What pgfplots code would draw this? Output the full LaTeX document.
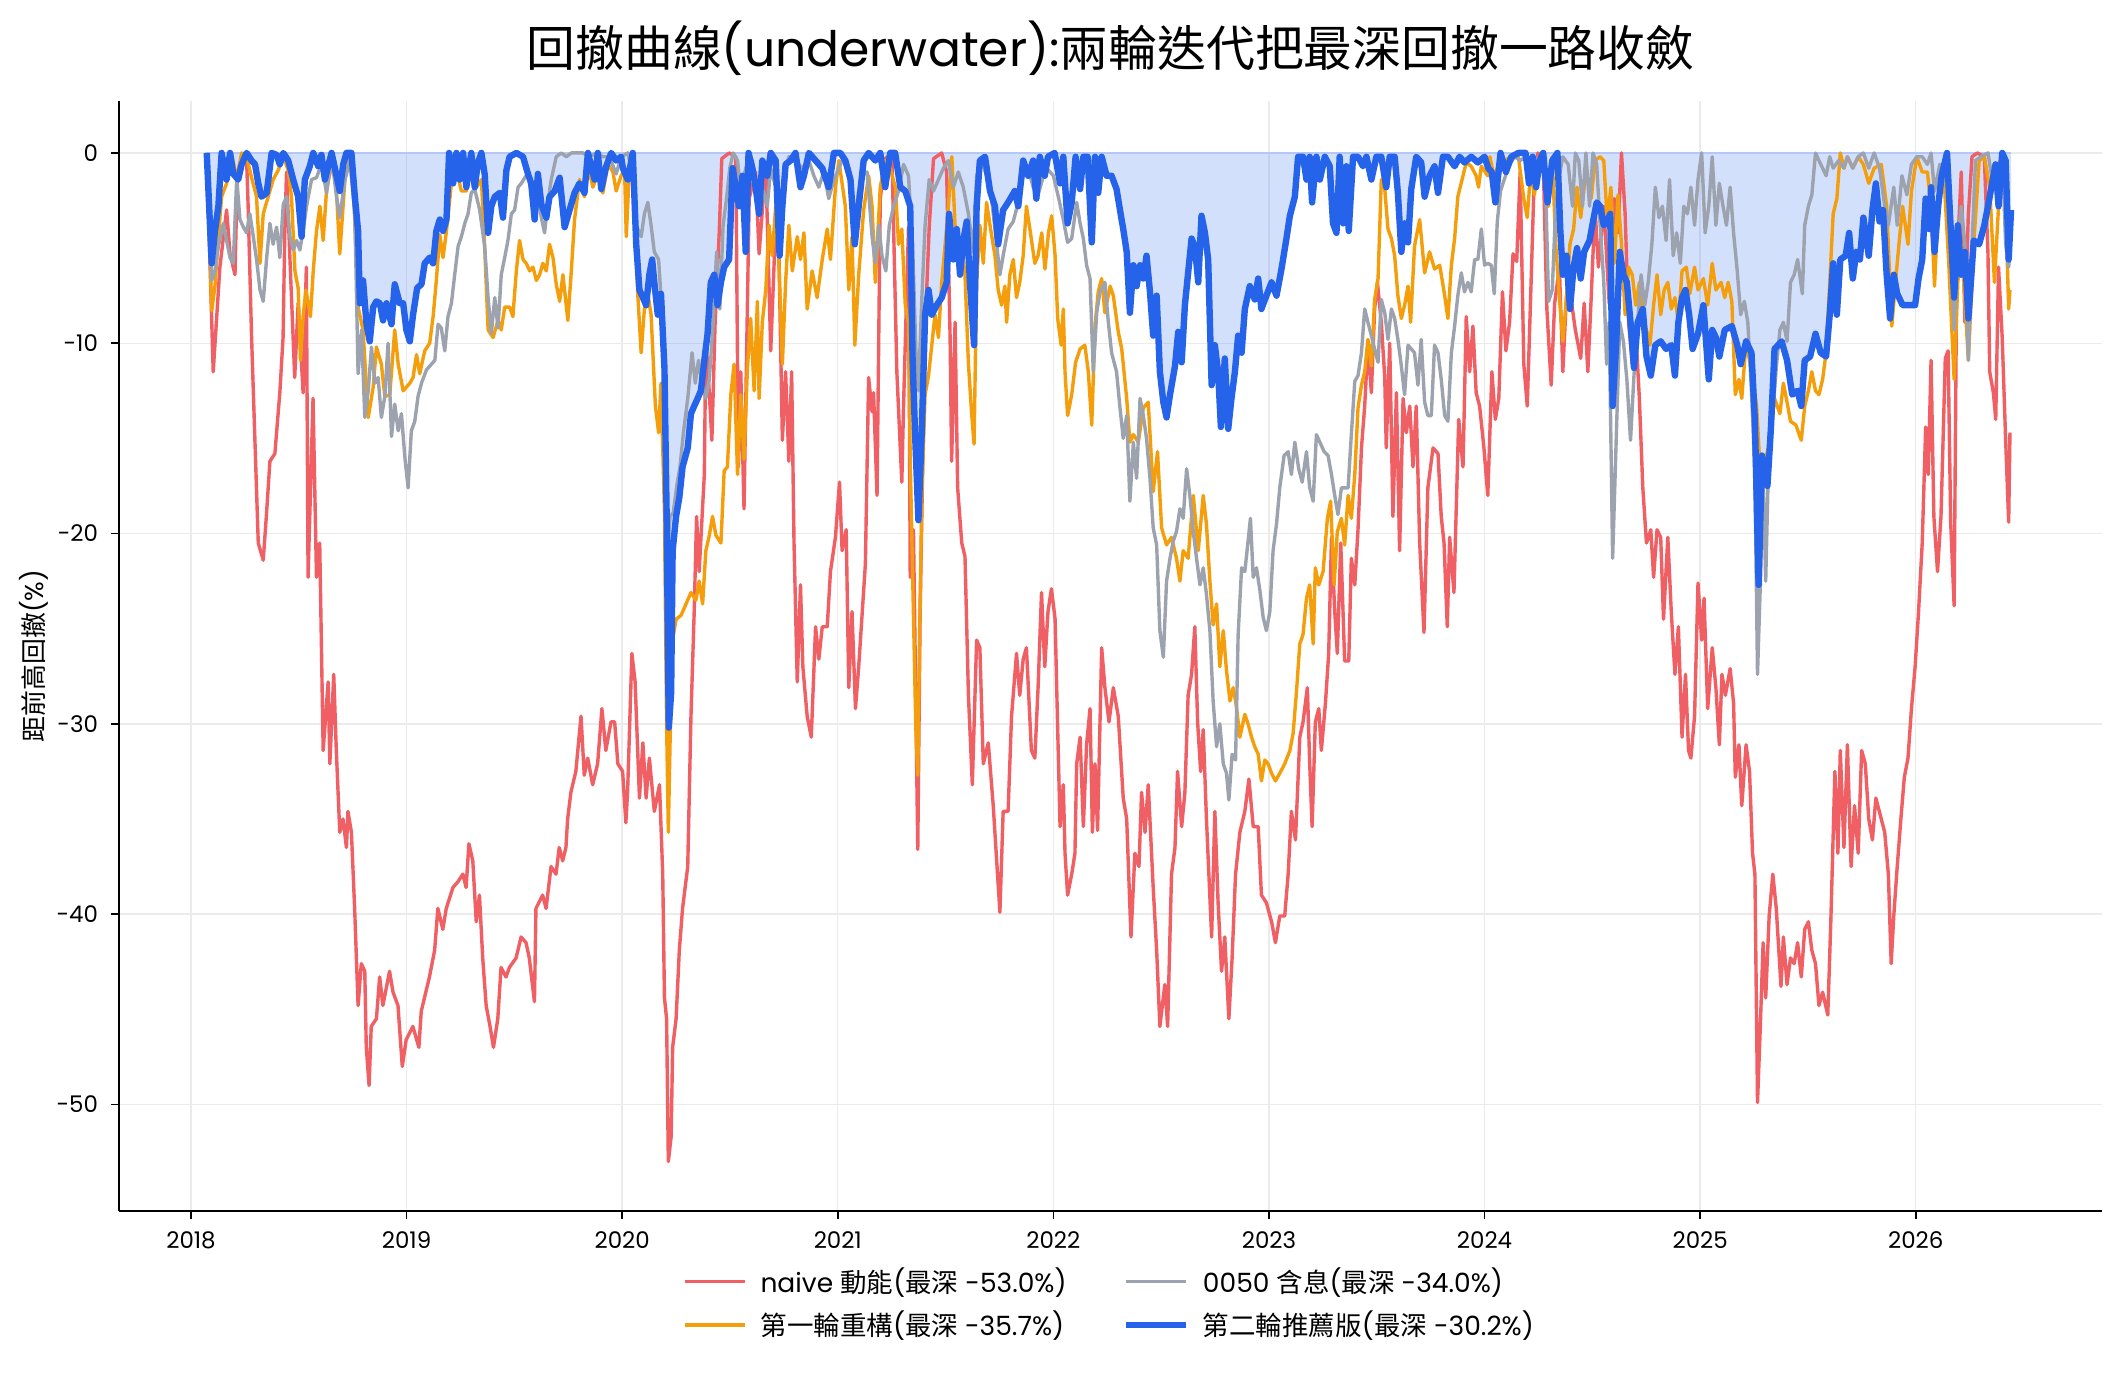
\documentclass[border=0pt]{standalone}
\usepackage{pgfplots}
\usepackage{pgfplotstable}
\pgfplotsset{compat=1.18}
\usepackage{fontspec}
\setmainfont{Poppins}
\newfontfamily\cjk{Noto Sans CJK TC}
\newcommand{\zh}[1]{{\cjk #1}}
\definecolor{cred}{RGB}{239,95,99}
\definecolor{corange}{RGB}{245,158,11}
\definecolor{cgray}{RGB}{156,163,175}
\definecolor{cblue}{RGB}{37,99,235}
\definecolor{cgrid}{RGB}{235,235,235}

\pgfplotstableread{
x y
2018.073 0
2018.103 -11.5
2018.134 -6.0
2018.165 -3.0
2018.181 -5.3
2018.204 -6.4
2018.215 -1.0
2018.235 -0.3
2018.258 -0.4
2018.265 -2.8
2018.281 -9.7
2018.289 -12.5
2018.312 -20.5
2018.335 -21.4
2018.350 -19.0
2018.366 -16.2
2018.389 -15.8
2018.412 -12.6
2018.427 -9.7
2018.435 -4.2
2018.443 -1.0
2018.458 -5.3
2018.481 -11.8
2018.497 -7.9
2018.520 -12.6
2018.535 -6.0
2018.543 -22.3
2018.566 -12.9
2018.582 -22.3
2018.597 -20.5
2018.613 -31.4
2018.636 -27.8
2018.644 -32.1
2018.662 -27.4
2018.674 -31.4
2018.690 -35.7
2018.705 -35.0
2018.721 -36.5
2018.728 -34.6
2018.744 -35.7
2018.759 -39.7
2018.775 -44.8
2018.790 -42.6
2018.806 -43.0
2018.813 -47.0
2018.826 -49.0
2018.836 -45.9
2018.860 -45.5
2018.875 -43.3
2018.890 -44.8
2018.921 -43.0
2018.937 -44.1
2018.960 -44.8
2018.980 -48.0
2018.998 -46.6
2019.029 -45.9
2019.057 -47.0
2019.068 -45.1
2019.106 -43.3
2019.130 -41.9
2019.145 -39.7
2019.168 -40.8
2019.184 -39.7
2019.215 -38.6
2019.238 -38.3
2019.261 -37.9
2019.276 -38.6
2019.289 -36.3
2019.307 -37.2
2019.323 -40.4
2019.338 -39.0
2019.353 -42.3
2019.369 -44.8
2019.387 -45.9
2019.403 -47.0
2019.423 -45.5
2019.438 -42.8
2019.461 -43.3
2019.477 -42.8
2019.508 -42.3
2019.531 -41.2
2019.554 -41.5
2019.569 -42.3
2019.593 -44.6
2019.600 -39.7
2019.631 -39.0
2019.647 -39.7
2019.670 -37.5
2019.693 -37.9
2019.708 -36.5
2019.724 -37.2
2019.739 -36.5
2019.747 -35.0
2019.762 -33.6
2019.785 -32.5
2019.809 -29.6
2019.824 -32.7
2019.840 -31.8
2019.863 -33.2
2019.886 -32.1
2019.906 -29.2
2019.924 -31.4
2019.948 -29.9
2019.965 -29.9
2019.980 -32.1
2020.002 -32.5
2020.017 -35.2
2020.025 -33.6
2020.045 -26.3
2020.060 -27.8
2020.080 -33.9
2020.096 -31.0
2020.111 -33.9
2020.126 -31.8
2020.149 -34.6
2020.173 -33.2
2020.188 -37.9
2020.196 -44.4
2020.206 -45.5
2020.214 -53.0
2020.227 -51.7
2020.234 -47.0
2020.250 -45.5
2020.265 -41.9
2020.280 -39.7
2020.304 -37.5
2020.319 -29.6
2020.334 -24.1
2020.345 -19.1
2020.357 -22.0
2020.381 -16.9
2020.388 -9.7
2020.404 -12.6
2020.416 -15.1
2020.431 -8.9
2020.450 -4.2
2020.462 -0.3
2020.496 0
2020.527 -0.2
2020.539 -16.5
2020.550 -11.5
2020.565 -18.7
2020.589 -2.4
2020.619 -1.0
2020.635 -5.3
2020.666 -0.6
2020.689 -10.4
2020.704 -6.0
2020.720 -1.0
2020.743 -15.1
2020.758 -11.5
2020.773 -16.2
2020.786 -11.5
2020.797 -20.5
2020.812 -27.8
2020.827 -22.7
2020.838 -27.0
2020.858 -29.6
2020.877 -30.7
2020.897 -24.9
2020.912 -26.6
2020.928 -24.9
2020.951 -24.9
2020.966 -22.0
2020.989 -20.2
2021.008 -17.3
2021.020 -20.9
2021.039 -19.8
2021.051 -28.1
2021.066 -24.1
2021.082 -29.2
2021.097 -27.0
2021.128 -21.6
2021.143 -11.8
2021.159 -13.6
2021.166 -12.6
2021.182 -18.0
2021.197 -2.4
2021.220 -0.3
2021.251 0
2021.274 -11.5
2021.297 -17.3
2021.305 -13.3
2021.328 -3.9
2021.336 -22.3
2021.351 -19.8
2021.362 -28.9
2021.371 -36.6
2021.382 -24.1
2021.405 -9.3
2021.424 -3.9
2021.444 -0.3
2021.482 0
2021.505 -1.0
2021.521 -9.7
2021.528 -16.2
2021.544 -8.9
2021.556 -17.6
2021.575 -20.5
2021.590 -21.2
2021.606 -28.5
2021.624 -33.2
2021.644 -25.6
2021.659 -26.0
2021.675 -32.1
2021.698 -31.0
2021.721 -34.3
2021.737 -37.2
2021.752 -39.9
2021.767 -34.6
2021.790 -34.6
2021.806 -29.6
2021.829 -26.3
2021.844 -28.5
2021.860 -26.6
2021.875 -26.0
2021.898 -31.4
2021.914 -31.8
2021.929 -28.1
2021.945 -23.1
2021.960 -27.0
2021.975 -24.1
2021.991 -22.9
2022.008 -24.5
2022.020 -30.3
2022.031 -35.4
2022.046 -33.2
2022.054 -36.8
2022.066 -39.0
2022.085 -37.9
2022.100 -36.8
2022.108 -32.1
2022.124 -30.7
2022.139 -35.4
2022.154 -31.1
2022.170 -29.2
2022.181 -35.7
2022.193 -32.1
2022.205 -35.6
2022.224 -26.0
2022.239 -28.1
2022.258 -29.9
2022.278 -28.1
2022.301 -29.6
2022.324 -33.9
2022.340 -35.0
2022.360 -41.2
2022.378 -36.8
2022.397 -37.5
2022.409 -33.6
2022.425 -35.7
2022.440 -33.2
2022.463 -38.6
2022.479 -41.9
2022.494 -45.9
2022.517 -43.7
2022.530 -45.9
2022.548 -37.9
2022.564 -36.5
2022.576 -32.5
2022.595 -35.4
2022.610 -33.6
2022.625 -28.5
2022.641 -27.4
2022.656 -24.9
2022.669 -29.9
2022.683 -32.5
2022.695 -30.3
2022.710 -35.0
2022.734 -41.2
2022.749 -34.6
2022.764 -39.4
2022.780 -43.0
2022.795 -41.2
2022.814 -45.5
2022.829 -42.3
2022.845 -37.9
2022.865 -35.7
2022.888 -34.6
2022.907 -32.9
2022.927 -35.4
2022.950 -35.4
2022.965 -39.0
2022.988 -39.4
2023.012 -40.4
2023.030 -41.5
2023.050 -40.1
2023.073 -40.1
2023.089 -37.9
2023.104 -34.6
2023.123 -36.1
2023.143 -30.7
2023.158 -29.9
2023.178 -28.1
2023.189 -32.1
2023.200 -35.4
2023.215 -29.9
2023.231 -29.2
2023.243 -31.4
2023.262 -28.9
2023.277 -26.3
2023.290 -20.2
2023.305 -24.1
2023.317 -26.3
2023.333 -20.5
2023.351 -26.7
2023.370 -26.7
2023.382 -21.3
2023.398 -22.7
2023.413 -19.8
2023.429 -15.5
2023.444 -13.3
2023.459 -10.0
2023.475 -12.6
2023.490 -8.2
2023.503 -6.8
2023.521 -8.9
2023.537 -11.8
2023.544 -15.5
2023.560 -10.0
2023.575 -19.1
2023.591 -12.6
2023.606 -20.9
2023.622 -12.9
2023.637 -14.7
2023.653 -13.3
2023.668 -16.5
2023.683 -13.3
2023.699 -20.5
2023.719 -25.2
2023.737 -17.6
2023.761 -15.5
2023.784 -15.8
2023.799 -19.1
2023.812 -20.5
2023.827 -24.9
2023.838 -20.2
2023.858 -23.1
2023.880 -14.0
2023.900 -16.5
2023.915 -8.6
2023.931 -11.5
2023.946 -9.1
2023.961 -12.6
2023.977 -13.3
2023.997 -15.5
2024.015 -18.0
2024.034 -11.5
2024.050 -14.0
2024.066 -12.9
2024.083 -7.3
2024.099 -10.4
2024.116 -8.9
2024.132 -5.3
2024.149 -5.7
2024.165 -1.0
2024.182 -11.1
2024.198 -13.3
2024.215 -7.1
2024.231 -1.0
2024.248 0
2024.272 -0.4
2024.289 -8.2
2024.309 -12.2
2024.325 -7.9
2024.347 -6.0
2024.363 -11.5
2024.380 -7.5
2024.404 -7.9
2024.421 -9.3
2024.446 -10.8
2024.462 -7.9
2024.479 -11.5
2024.495 -7.5
2024.512 -2.8
2024.528 -6.0
2024.553 -2.8
2024.578 -7.9
2024.602 -2.4
2024.619 -4.2
2024.635 0
2024.652 -3.2
2024.668 -8.9
2024.685 -11.1
2024.701 -9.3
2024.718 -12.9
2024.734 -17.6
2024.751 -20.5
2024.771 -19.8
2024.784 -22.3
2024.800 -19.8
2024.817 -20.2
2024.830 -24.5
2024.850 -20.2
2024.866 -24.1
2024.883 -27.4
2024.899 -24.9
2024.916 -30.7
2024.932 -27.4
2024.946 -31.4
2024.957 -31.8
2024.974 -29.6
2024.990 -22.6
2025.007 -25.6
2025.018 -23.4
2025.035 -29.2
2025.056 -26.0
2025.073 -28.1
2025.089 -31.1
2025.101 -27.4
2025.117 -28.5
2025.139 -27.1
2025.155 -28.9
2025.163 -32.8
2025.180 -31.1
2025.193 -34.3
2025.213 -31.1
2025.229 -32.5
2025.243 -36.8
2025.254 -37.9
2025.266 -49.9
2025.279 -45.9
2025.292 -41.5
2025.304 -44.4
2025.320 -40.1
2025.337 -37.9
2025.353 -39.7
2025.375 -43.8
2025.386 -41.2
2025.403 -43.7
2025.419 -42.3
2025.436 -42.6
2025.452 -41.5
2025.469 -43.3
2025.485 -40.8
2025.502 -40.4
2025.518 -41.9
2025.535 -42.6
2025.551 -44.8
2025.568 -44.1
2025.592 -45.3
2025.606 -40.4
2025.625 -32.5
2025.639 -36.8
2025.650 -31.4
2025.667 -36.5
2025.683 -31.1
2025.700 -37.5
2025.716 -34.3
2025.733 -36.8
2025.749 -31.4
2025.766 -32.1
2025.782 -35.0
2025.799 -36.1
2025.815 -33.9
2025.840 -35.0
2025.856 -35.7
2025.873 -37.9
2025.886 -42.6
2025.898 -40.1
2025.914 -37.5
2025.931 -35.0
2025.947 -32.8
2025.964 -31.8
2025.980 -29.2
2025.997 -27.0
2026.013 -24.1
2026.030 -20.5
2026.046 -14.4
2026.058 -16.9
2026.071 -10.9
2026.084 -19.1
2026.101 -22.0
2026.117 -19.1
2026.137 -10.8
2026.150 -10.4
2026.162 -19.4
2026.178 -23.8
2026.190 -6.0
2026.211 -1.0
2026.228 -8.9
2026.244 -3.2
2026.261 -0.2
2026.285 0
2026.318 -0.2
2026.335 -5.3
2026.343 -11.5
2026.360 -12.6
2026.371 -14.0
2026.384 -6.0
2026.401 -9.7
2026.417 -15.1
2026.431 -19.4
2026.437 -14.7
}\redtab

\pgfplotstableread{
x y
2018.073 0
2018.096 -8.3
2018.111 -7.0
2018.127 -4.4
2018.142 -2.3
2018.165 -1.6
2018.188 0
2018.212 -1.4
2018.235 0
2018.258 -0.2
2018.281 -1.3
2018.304 -2.3
2018.320 -5.8
2018.335 -3.2
2018.358 -2.3
2018.381 -1.4
2018.405 -0.9
2018.428 -0.2
2018.451 -0.9
2018.466 -2.3
2018.482 -6.2
2018.497 -7.1
2018.508 -10.9
2018.520 -8.6
2018.533 -7.2
2018.554 -8.6
2018.567 -6.2
2018.582 -4.1
2018.598 -2.8
2018.613 -4.6
2018.629 -1.9
2018.644 -1.1
2018.667 -0.4
2018.690 -5.3
2018.714 -1.4
2018.737 -0.2
2018.755 -2.3
2018.775 -8.1
2018.798 -9.3
2018.822 -13.9
2018.845 -12.3
2018.860 -10.2
2018.883 -11.1
2018.899 -12.8
2018.922 -12.7
2018.945 -9.3
2018.961 -11.1
2018.984 -12.5
2019.015 -12.1
2019.030 -11.8
2019.046 -10.6
2019.061 -11.6
2019.084 -10.4
2019.107 -10.0
2019.123 -8.6
2019.138 -6.7
2019.154 -4.3
2019.169 -5.5
2019.185 -4.1
2019.208 -1.6
2019.231 -0.9
2019.254 -2.0
2019.277 -2.0
2019.300 -0.9
2019.324 -1.8
2019.347 -1.4
2019.362 -4.9
2019.378 -9.3
2019.401 -9.7
2019.424 -8.8
2019.439 -9.3
2019.455 -8.1
2019.478 -8.1
2019.493 -8.6
2019.509 -6.2
2019.524 -4.6
2019.540 -5.6
2019.555 -5.8
2019.571 -6.2
2019.586 -6.0
2019.602 -6.7
2019.617 -6.4
2019.632 -5.8
2019.648 -6.2
2019.663 -4.8
2019.679 -5.5
2019.694 -6.9
2019.710 -7.8
2019.725 -6.4
2019.748 -8.8
2019.764 -6.2
2019.779 -3.5
2019.802 -1.4
2019.825 -2.3
2019.841 -0.6
2019.864 -1.8
2019.887 -1.1
2019.910 -2.1
2019.934 -0.6
2019.957 -1.0
2019.972 -2.0
2019.995 -1.2
2020.011 -0.9
2020.019 -4.4
2020.031 -1.4
2020.049 -0.4
2020.072 -7.4
2020.088 -10.5
2020.103 -8.2
2020.119 -7.4
2020.134 -8.5
2020.154 -13.3
2020.169 -14.7
2020.180 -12.1
2020.196 -18.9
2020.206 -30.0
2020.214 -35.7
2020.222 -31.0
2020.234 -25.6
2020.250 -24.5
2020.273 -24.3
2020.296 -23.7
2020.319 -23.1
2020.342 -23.5
2020.357 -22.5
2020.373 -23.7
2020.388 -20.9
2020.404 -20.1
2020.419 -19.1
2020.435 -20.1
2020.458 -20.5
2020.473 -16.7
2020.488 -16.5
2020.504 -12.7
2020.519 -11.1
2020.535 -16.9
2020.550 -12.7
2020.565 -16.1
2020.581 -11.3
2020.596 -8.7
2020.612 -12.5
2020.627 -7.8
2020.635 -12.9
2020.650 -8.9
2020.666 -7.2
2020.681 -3.8
2020.696 -5.4
2020.712 -2.8
2020.727 -5.8
2020.743 -11.1
2020.758 -6.8
2020.773 -3.8
2020.789 -6.2
2020.812 -4.4
2020.827 -5.6
2020.843 -4.2
2020.858 -8.2
2020.881 -6.2
2020.904 -7.6
2020.928 -5.6
2020.951 -4.0
2020.966 -5.6
2020.989 -1.8
2021.005 -0.4
2021.020 -1.6
2021.035 -2.8
2021.051 -7.2
2021.066 -4.4
2021.079 -10.1
2021.097 -6.4
2021.120 -3.0
2021.143 -1.2
2021.159 -2.8
2021.174 -6.8
2021.197 -1.8
2021.220 -0.4
2021.243 -0.8
2021.267 -1.8
2021.282 -4.8
2021.297 -4.0
2021.313 -8.0
2021.328 -8.9
2021.336 -16.1
2021.347 -22.1
2021.362 -30.2
2021.371 -32.7
2021.380 -25.0
2021.390 -17.9
2021.405 -12.7
2021.421 -11.7
2021.436 -10.1
2021.451 -8.5
2021.467 -9.7
2021.482 -6.8
2021.498 -4.8
2021.513 -2.8
2021.529 -0.2
2021.544 -3.8
2021.559 -5.8
2021.575 -4.8
2021.590 -6.4
2021.606 -11.1
2021.621 -13.7
2021.632 -15.3
2021.644 -6.8
2021.659 -3.8
2021.675 -5.8
2021.690 -2.6
2021.706 -3.8
2021.729 -5.4
2021.744 -7.2
2021.760 -8.0
2021.775 -7.0
2021.783 -8.9
2021.798 -6.4
2021.814 -5.6
2021.829 -7.6
2021.844 -6.8
2021.860 -5.4
2021.875 -2.8
2021.891 -4.0
2021.914 -5.8
2021.929 -5.4
2021.946 -4.2
2021.961 -6.1
2021.977 -4.2
2021.992 -3.3
2022.008 -5.4
2022.020 -8.7
2022.036 -10.1
2022.046 -8.2
2022.054 -11.5
2022.066 -13.8
2022.085 -12.7
2022.103 -11.0
2022.124 -10.3
2022.146 -10.1
2022.162 -11.5
2022.178 -14.3
2022.193 -9.1
2022.208 -7.3
2022.224 -6.6
2022.239 -8.4
2022.263 -7.0
2022.278 -7.5
2022.301 -9.4
2022.317 -10.3
2022.340 -12.9
2022.355 -15.2
2022.371 -14.8
2022.394 -15.2
2022.417 -13.4
2022.440 -13.1
2022.463 -17.8
2022.483 -15.7
2022.502 -19.7
2022.525 -20.6
2022.548 -20.2
2022.571 -21.3
2022.587 -22.5
2022.602 -20.9
2022.625 -21.3
2022.649 -18.0
2022.672 -20.9
2022.695 -18.0
2022.710 -19.5
2022.726 -22.5
2022.741 -24.8
2022.757 -23.7
2022.772 -27.0
2022.788 -25.1
2022.803 -27.2
2022.819 -28.8
2022.834 -28.1
2022.849 -29.1
2022.865 -30.7
2022.888 -29.5
2022.903 -30.0
2022.919 -30.7
2022.934 -31.2
2022.950 -31.6
2022.965 -33.0
2022.981 -31.9
2022.996 -32.1
2023.012 -32.6
2023.030 -33.0
2023.050 -32.6
2023.073 -32.1
2023.097 -31.4
2023.112 -30.5
2023.127 -28.4
2023.143 -25.8
2023.158 -25.3
2023.174 -23.4
2023.189 -22.7
2023.205 -25.8
2023.215 -21.8
2023.231 -22.7
2023.251 -22.0
2023.271 -19.2
2023.286 -18.3
2023.302 -22.7
2023.317 -19.9
2023.336 -19.2
2023.351 -20.6
2023.367 -18.0
2023.382 -19.2
2023.398 -16.9
2023.413 -13.4
2023.429 -12.2
2023.444 -11.5
2023.459 -9.8
2023.475 -11.2
2023.490 -7.7
2023.506 -6.6
2023.521 -1.4
2023.537 -1.9
2023.552 -4.0
2023.568 -4.5
2023.583 -5.4
2023.598 -7.5
2023.614 -8.7
2023.629 -8.0
2023.645 -7.0
2023.657 -8.9
2023.675 -4.9
2023.699 -3.5
2023.722 -6.3
2023.745 -5.2
2023.768 -6.1
2023.792 -5.9
2023.815 -7.5
2023.830 -8.7
2023.846 -5.9
2023.861 -4.5
2023.876 -2.3
2023.900 -1.2
2023.915 -0.5
2023.938 -0.7
2023.961 -1.2
2023.972 -1.8
2023.985 -0.7
2024.015 -1.2
2024.025 -0.2
2024.046 -1.4
2024.058 -0.8
2024.091 -0.4
2024.124 -0.2
2024.157 -0.2
2024.182 -2.4
2024.198 -3.4
2024.215 -0.8
2024.231 -2.2
2024.256 -0.4
2024.281 -1.2
2024.297 -2.8
2024.314 -0.2
2024.330 -4.8
2024.347 -7.6
2024.363 -9.9
2024.380 -7.6
2024.396 -4.8
2024.413 -4.0
2024.429 -1.8
2024.446 -3.4
2024.470 -1.0
2024.495 -2.4
2024.512 -0.4
2024.536 -0.2
2024.553 -0.4
2024.569 -3.6
2024.586 -1.8
2024.602 -5.8
2024.619 -2.2
2024.635 -4.8
2024.652 -8.5
2024.668 -6.0
2024.685 -6.4
2024.701 -8.0
2024.718 -6.8
2024.734 -8.5
2024.751 -9.3
2024.767 -10.1
2024.784 -8.0
2024.800 -6.4
2024.817 -8.5
2024.833 -7.2
2024.850 -6.8
2024.866 -8.2
2024.883 -7.6
2024.899 -8.9
2024.916 -6.2
2024.936 -6.0
2024.952 -7.4
2024.974 -6.0
2024.990 -7.2
2025.015 -6.6
2025.035 -8.0
2025.056 -5.8
2025.073 -7.2
2025.097 -6.8
2025.114 -7.6
2025.130 -6.8
2025.147 -7.8
2025.163 -12.7
2025.180 -11.9
2025.193 -12.9
2025.213 -9.9
2025.229 -10.9
2025.246 -12.1
2025.262 -13.3
2025.279 -16.9
2025.295 -16.5
2025.320 -15.3
2025.345 -12.9
2025.370 -13.7
2025.386 -12.1
2025.403 -13.1
2025.419 -14.1
2025.444 -14.3
2025.469 -15.1
2025.485 -13.3
2025.502 -12.5
2025.518 -11.5
2025.535 -12.5
2025.551 -12.7
2025.568 -11.9
2025.584 -10.5
2025.601 -6.8
2025.617 -3.2
2025.634 -2.4
2025.650 0
2025.667 -0.8
2025.683 -0.2
2025.708 -0.8
2025.733 -0.2
2025.757 -0.6
2025.782 -1.6
2025.807 -0.8
2025.840 -0.6
2025.865 -2.8
2025.889 -9.1
2025.906 -6.8
2025.922 -4.8
2025.939 -2.8
2025.964 -4.8
2025.980 -2.0
2026.005 -0.2
2026.030 -1.0
2026.054 -1.0
2026.071 -2.8
2026.087 -7.0
2026.104 -2.8
2026.129 -0.8
2026.153 -5.8
2026.178 -11.9
2026.195 -6.8
2026.211 -4.8
2026.228 -7.8
2026.244 -10.9
2026.269 -4.8
2026.294 -0.4
2026.318 -0.2
2026.343 -1.8
2026.365 -6.8
2026.384 -2.8
2026.401 -0.2
2026.417 -2.8
2026.431 -8.2
2026.437 -7.2
}\orangetab

\pgfplotstableread{
x y
2018.073 0
2018.096 -6.7
2018.111 -6.2
2018.127 -4.9
2018.150 -3.7
2018.165 -4.6
2018.181 -5.5
2018.196 -5.8
2018.212 -1.3
2018.227 -3.5
2018.243 -3.9
2018.258 -4.2
2018.273 -3.2
2018.289 -4.4
2018.304 -5.6
2018.320 -7.2
2018.335 -7.8
2018.351 -5.5
2018.366 -3.7
2018.381 -4.8
2018.397 -3.9
2018.412 -5.5
2018.428 -2.7
2018.443 -2.3
2018.459 -4.4
2018.474 -5.1
2018.490 -4.6
2018.505 -5.1
2018.520 -4.1
2018.536 -2.8
2018.559 -1.4
2018.582 -1.3
2018.605 -0.6
2018.629 -2.1
2018.652 -0.2
2018.675 -2.3
2018.690 -3.4
2018.714 -1.4
2018.737 -0.4
2018.760 -3.2
2018.775 -11.6
2018.791 -9.3
2018.806 -13.9
2018.822 -12.5
2018.837 -10.2
2018.853 -12.1
2018.868 -11.8
2018.883 -13.9
2018.899 -12.8
2018.914 -10.0
2018.930 -14.9
2018.945 -13.2
2018.961 -14.6
2018.976 -13.7
2018.992 -16.0
2019.007 -17.6
2019.022 -14.6
2019.038 -14.1
2019.053 -12.8
2019.069 -12.1
2019.092 -11.4
2019.115 -11.1
2019.131 -10.9
2019.146 -9.0
2019.161 -9.2
2019.177 -10.4
2019.192 -8.6
2019.208 -7.9
2019.223 -6.4
2019.239 -4.9
2019.254 -4.4
2019.270 -3.7
2019.285 -3.2
2019.300 -2.1
2019.316 -1.9
2019.339 -3.0
2019.362 -4.9
2019.378 -7.6
2019.393 -9.5
2019.409 -7.6
2019.424 -9.2
2019.439 -6.4
2019.455 -5.5
2019.470 -4.6
2019.486 -3.2
2019.501 -3.0
2019.517 -1.8
2019.532 -1.6
2019.548 -1.3
2019.563 -1.1
2019.578 -2.0
2019.594 -2.7
2019.609 -2.3
2019.625 -3.4
2019.640 -4.2
2019.656 -2.5
2019.671 -1.4
2019.694 -0.2
2019.717 0
2019.741 -0.2
2019.764 0
2019.795 0
2019.818 0
2019.849 -0.2
2019.880 0
2019.910 -0.2
2019.941 -0.2
2019.972 -1.1
2019.995 -0.2
2020.026 0
2020.034 -0.4
2020.049 -0.2
2020.065 -3.8
2020.088 -4.4
2020.103 -3.2
2020.119 -2.6
2020.134 -3.8
2020.149 -5.2
2020.169 -5.6
2020.185 -8.5
2020.200 -14.9
2020.211 -20.9
2020.222 -19.1
2020.237 -18.9
2020.253 -17.5
2020.268 -16.5
2020.284 -14.7
2020.304 -12.9
2020.324 -10.5
2020.339 -12.1
2020.354 -10.9
2020.370 -12.1
2020.388 -12.9
2020.404 -11.9
2020.422 -8.9
2020.438 -5.2
2020.453 -8.2
2020.468 -3.8
2020.484 -2.4
2020.499 -0.8
2020.515 0
2020.535 -0.4
2020.550 -2.0
2020.573 -0.8
2020.604 -0.4
2020.627 -2.8
2020.650 -1.8
2020.673 -2.8
2020.689 -0.8
2020.712 -1.8
2020.735 -4.8
2020.750 -1.2
2020.773 -0.2
2020.804 -0.4
2020.835 -0.8
2020.866 -0.4
2020.889 -1.2
2020.912 -1.8
2020.935 -1.0
2020.958 -2.4
2020.982 -1.4
2021.005 -0.8
2021.028 -0.2
2021.051 -0.8
2021.074 -4.2
2021.094 -2.2
2021.112 -1.2
2021.136 -1.0
2021.159 -4.4
2021.174 -5.8
2021.190 -3.8
2021.205 -5.4
2021.223 -6.2
2021.239 -3.8
2021.259 -2.8
2021.282 -2.0
2021.305 -0.6
2021.328 -1.2
2021.347 -4.8
2021.362 -10.3
2021.374 -12.5
2021.390 -7.6
2021.405 -3.8
2021.424 -1.4
2021.444 -2.0
2021.467 -1.4
2021.490 -0.8
2021.513 -0.4
2021.536 -1.8
2021.559 -1.0
2021.582 -1.8
2021.606 -3.2
2021.629 -5.2
2021.644 -1.2
2021.667 -0.4
2021.690 -1.2
2021.713 -2.4
2021.737 -4.8
2021.752 -6.4
2021.767 -5.4
2021.790 -4.0
2021.814 -3.6
2021.837 -2.6
2021.860 -1.2
2021.883 -0.8
2021.906 -1.8
2021.929 -2.2
2021.954 -1.2
2021.977 -0.9
2022.000 -1.2
2022.023 -2.3
2022.046 -3.5
2022.066 -4.7
2022.085 -4.5
2022.108 -2.6
2022.124 -3.7
2022.139 -4.5
2022.154 -5.9
2022.170 -6.6
2022.185 -11.5
2022.201 -8.4
2022.216 -7.3
2022.239 -6.8
2022.255 -8.9
2022.270 -10.5
2022.293 -11.5
2022.309 -13.4
2022.324 -15.0
2022.340 -13.8
2022.355 -18.3
2022.371 -15.2
2022.386 -17.1
2022.402 -12.9
2022.417 -13.8
2022.432 -15.0
2022.448 -17.1
2022.463 -19.7
2022.479 -20.6
2022.494 -25.1
2022.510 -26.5
2022.525 -22.5
2022.541 -21.3
2022.556 -20.4
2022.571 -19.9
2022.587 -18.7
2022.602 -19.2
2022.618 -16.6
2022.633 -18.0
2022.649 -19.9
2022.664 -21.3
2022.680 -22.7
2022.695 -21.8
2022.710 -23.2
2022.726 -25.1
2022.741 -28.8
2022.757 -31.2
2022.772 -30.0
2022.788 -32.1
2022.803 -32.6
2022.814 -34.0
2022.829 -31.6
2022.845 -31.9
2022.857 -25.3
2022.873 -21.8
2022.888 -22.0
2022.903 -20.4
2022.914 -19.2
2022.927 -22.3
2022.942 -21.8
2022.958 -23.0
2022.973 -24.4
2022.988 -25.1
2023.004 -24.1
2023.019 -20.9
2023.035 -19.5
2023.050 -17.6
2023.070 -15.9
2023.089 -15.7
2023.104 -16.9
2023.120 -15.2
2023.138 -16.6
2023.154 -17.3
2023.174 -15.7
2023.189 -17.6
2023.205 -18.3
2023.220 -14.8
2023.236 -15.2
2023.256 -15.7
2023.274 -15.9
2023.290 -16.9
2023.305 -18.0
2023.320 -19.0
2023.336 -17.6
2023.351 -17.6
2023.367 -17.6
2023.382 -14.8
2023.398 -12.0
2023.413 -11.7
2023.429 -10.5
2023.444 -8.2
2023.459 -8.9
2023.475 -9.6
2023.490 -10.3
2023.506 -11.0
2023.521 -7.7
2023.537 -8.4
2023.552 -9.8
2023.568 -8.2
2023.583 -8.7
2023.598 -9.8
2023.614 -11.2
2023.629 -12.7
2023.645 -10.1
2023.660 -10.3
2023.675 -10.5
2023.691 -12.2
2023.706 -9.8
2023.722 -13.1
2023.737 -13.8
2023.753 -13.8
2023.768 -10.1
2023.784 -10.5
2023.799 -11.9
2023.815 -13.8
2023.830 -14.1
2023.846 -10.5
2023.861 -9.1
2023.876 -7.5
2023.892 -6.3
2023.907 -7.3
2023.923 -6.8
2023.938 -7.3
2023.954 -5.6
2023.969 -5.6
2023.985 -4.0
2024.000 -5.9
2024.015 -5.8
2024.031 -5.9
2024.045 -7.4
2024.059 -3.6
2024.074 -2.0
2024.091 -1.4
2024.116 -0.6
2024.140 -0.2
2024.165 -0.4
2024.190 -0.2
2024.223 -0.6
2024.256 -0.2
2024.281 -0.8
2024.297 -7.8
2024.314 -7.2
2024.330 -2.8
2024.347 -1.2
2024.363 -0.2
2024.388 -0.6
2024.408 -2.8
2024.421 0
2024.437 -0.4
2024.454 -2.8
2024.470 0
2024.487 -2.8
2024.503 0
2024.520 -0.6
2024.536 -3.8
2024.553 -6.8
2024.566 -11.1
2024.578 -8.9
2024.594 -21.3
2024.611 -14.9
2024.627 -8.9
2024.644 -9.9
2024.660 -11.9
2024.677 -15.1
2024.693 -11.7
2024.710 -8.9
2024.726 -6.4
2024.743 -8.0
2024.759 -6.8
2024.776 -4.8
2024.792 -1.8
2024.809 -3.4
2024.825 -2.8
2024.842 -4.6
2024.858 -1.4
2024.875 -5.4
2024.891 -4.2
2024.908 -5.8
2024.924 -2.8
2024.941 -3.2
2024.957 -1.8
2024.974 -3.8
2024.990 -1.4
2025.007 0
2025.023 -4.2
2025.040 -2.8
2025.056 -0.2
2025.073 -3.8
2025.089 -1.6
2025.106 -2.8
2025.122 -3.8
2025.139 -1.8
2025.155 -4.2
2025.172 -6.2
2025.188 -8.5
2025.205 -7.8
2025.221 -8.9
2025.238 -12.5
2025.254 -16.9
2025.266 -27.4
2025.279 -22.7
2025.292 -16.9
2025.304 -22.5
2025.320 -14.9
2025.337 -13.7
2025.353 -11.3
2025.370 -9.3
2025.386 -8.9
2025.403 -9.9
2025.419 -6.8
2025.436 -6.4
2025.452 -5.6
2025.474 -7.4
2025.485 -3.8
2025.502 -2.8
2025.518 -2.2
2025.535 0
2025.551 -0.4
2025.568 -0.8
2025.584 -1.2
2025.601 -0.2
2025.617 -0.8
2025.642 -0.4
2025.667 -0.8
2025.683 -0.2
2025.708 -0.8
2025.733 -0.2
2025.757 0
2025.782 -0.8
2025.807 0
2025.832 -0.8
2025.856 -2.8
2025.873 -3.8
2025.898 -1.8
2025.914 -3.8
2025.936 -1.2
2025.959 -2.2
2025.980 -0.6
2026.005 -0.2
2026.030 -0.2
2026.054 -0.6
2026.071 0
2026.087 -2.0
2026.112 -0.6
2026.137 -0.8
2026.162 -4.8
2026.178 -9.3
2026.195 -4.8
2026.211 -2.8
2026.228 -4.8
2026.244 -10.9
2026.261 -4.8
2026.277 -0.4
2026.302 -0.2
2026.335 0
2026.360 -1.8
2026.384 -0.8
2026.401 0
2026.417 -4.8
2026.431 -6.0
2026.437 -5.2
}\graytab

\pgfplotstableread{
x y
2018.073 0
2018.096 -5.8
2018.111 -4.1
2018.127 -2.8
2018.142 0
2018.165 -1.4
2018.181 0
2018.196 -1.1
2018.219 -1.4
2018.235 -0.6
2018.258 0
2018.281 -0.4
2018.297 -0.6
2018.312 -1.6
2018.327 -2.3
2018.351 -2.1
2018.374 0
2018.397 -0.1
2018.412 -0.6
2018.428 0
2018.451 -0.4
2018.474 -1.4
2018.497 -2.3
2018.513 -4.4
2018.528 -1.4
2018.551 -0.7
2018.567 0
2018.590 -0.7
2018.605 -0.1
2018.621 -1.4
2018.636 -0.7
2018.652 0
2018.675 -1.2
2018.690 -2.0
2018.706 -0.6
2018.721 0
2018.744 0
2018.760 -2.3
2018.775 -4.1
2018.783 -7.9
2018.798 -6.7
2018.814 -9.0
2018.829 -9.9
2018.845 -8.1
2018.860 -7.8
2018.876 -7.9
2018.891 -8.8
2018.907 -7.9
2018.930 -9.0
2018.945 -6.9
2018.968 -7.9
2018.984 -7.9
2018.999 -9.3
2019.015 -9.9
2019.030 -8.5
2019.049 -7.1
2019.069 -6.9
2019.084 -5.8
2019.107 -5.5
2019.123 -5.8
2019.138 -4.1
2019.154 -3.5
2019.169 -4.1
2019.185 -3.5
2019.197 0
2019.216 -1.6
2019.231 0
2019.246 -1.4
2019.262 0
2019.277 -1.8
2019.300 0
2019.316 -1.8
2019.331 -0.5
2019.347 0
2019.362 -1.1
2019.378 -4.2
2019.393 -2.8
2019.409 -2.3
2019.432 -2.1
2019.447 -3.4
2019.463 -0.9
2019.478 -0.2
2019.509 0
2019.540 -0.2
2019.563 -1.1
2019.578 -1.6
2019.594 -3.5
2019.609 -1.1
2019.625 -2.7
2019.648 -3.4
2019.663 -2.3
2019.687 -2.0
2019.710 -1.3
2019.733 -3.9
2019.756 -3.0
2019.779 -2.1
2019.802 -1.6
2019.825 -2.1
2019.841 0
2019.872 -1.4
2019.887 0
2019.903 -1.9
2019.926 -0.7
2019.949 0
2019.972 -0.4
2019.995 -0.2
2020.003 -0.8
2020.026 -1.4
2020.049 0
2020.065 -4.8
2020.080 -7.2
2020.096 -7.6
2020.111 -8.0
2020.126 -6.4
2020.139 -5.6
2020.149 -6.8
2020.165 -8.5
2020.180 -7.4
2020.196 -11.3
2020.206 -18.9
2020.216 -30.2
2020.227 -28.4
2020.234 -20.9
2020.250 -19.1
2020.265 -18.1
2020.280 -16.5
2020.304 -15.5
2020.319 -13.7
2020.334 -13.3
2020.350 -12.9
2020.365 -12.5
2020.381 -10.9
2020.396 -9.5
2020.411 -6.8
2020.427 -6.4
2020.442 -8.0
2020.458 -6.8
2020.473 -6.0
2020.496 -5.6
2020.512 -0.8
2020.527 -1.8
2020.542 -2.8
2020.558 -1.2
2020.573 -5.2
2020.586 0
2020.604 -0.8
2020.619 -1.8
2020.635 -3.2
2020.650 -0.4
2020.673 -1.2
2020.689 0
2020.712 -0.4
2020.730 -5.4
2020.743 -2.8
2020.758 -0.6
2020.781 -0.4
2020.804 0
2020.827 -1.8
2020.843 -1.2
2020.866 0
2020.897 -0.4
2020.928 -0.8
2020.958 -1.8
2020.982 0
2021.012 0
2021.035 -0.4
2021.059 -1.4
2021.079 -4.8
2021.097 -2.8
2021.120 -0.4
2021.143 0
2021.174 -0.4
2021.197 0
2021.220 -1.8
2021.243 0
2021.266 0
2021.290 -1.8
2021.313 -2.0
2021.336 -2.8
2021.347 -10.9
2021.359 -14.9
2021.374 -19.3
2021.390 -14.5
2021.405 -8.5
2021.421 -7.2
2021.436 -8.5
2021.459 -8.0
2021.482 -7.6
2021.505 -6.8
2021.516 -3.2
2021.536 -5.6
2021.552 -4.0
2021.567 -6.4
2021.582 -4.6
2021.598 -3.6
2021.613 -6.8
2021.632 -10.1
2021.644 -2.8
2021.659 -0.4
2021.683 -0.2
2021.706 -2.0
2021.729 -2.8
2021.744 -4.8
2021.767 -3.0
2021.790 -2.6
2021.821 -2.0
2021.837 -2.8
2021.860 -0.4
2021.883 -1.2
2021.906 -0.4
2021.921 -2.4
2021.937 -0.2
2021.960 -1.2
2021.975 -0.2
2022.006 0
2022.031 -1.6
2022.046 -0.2
2022.066 -3.7
2022.085 -2.6
2022.103 -0.2
2022.124 -1.9
2022.139 -0.2
2022.159 -0.2
2022.178 -4.7
2022.193 -0.2
2022.208 -2.1
2022.224 -0.2
2022.247 -1.2
2022.270 -1.2
2022.293 -1.9
2022.309 -3.0
2022.324 -4.0
2022.340 -5.2
2022.355 -8.4
2022.371 -5.9
2022.386 -7.0
2022.402 -5.9
2022.417 -6.6
2022.432 -5.4
2022.448 -7.3
2022.463 -9.6
2022.479 -7.5
2022.494 -11.5
2022.510 -13.1
2022.525 -13.9
2022.541 -12.7
2022.564 -11.2
2022.579 -9.4
2022.595 -11.0
2022.610 -8.0
2022.625 -6.3
2022.641 -4.5
2022.656 -4.9
2022.672 -6.8
2022.687 -3.3
2022.703 -4.2
2022.718 -5.6
2022.734 -12.2
2022.749 -10.1
2022.764 -11.5
2022.777 -14.4
2022.795 -10.8
2022.811 -14.5
2022.826 -12.9
2022.842 -11.5
2022.857 -9.6
2022.873 -10.5
2022.888 -8.2
2022.911 -7.0
2022.934 -7.7
2022.950 -6.6
2022.965 -8.2
2022.988 -7.5
2023.012 -6.8
2023.035 -7.5
2023.058 -6.1
2023.081 -4.5
2023.097 -3.3
2023.120 -2.3
2023.135 -0.2
2023.158 -0.2
2023.174 -1.4
2023.189 -0.2
2023.200 -2.6
2023.220 -0.2
2023.236 -1.4
2023.259 -0.2
2023.282 -0.7
2023.297 -3.7
2023.313 -4.2
2023.328 -0.2
2023.344 -3.7
2023.359 -0.7
2023.370 -4.1
2023.390 -0.2
2023.413 -0.2
2023.436 -0.7
2023.452 -0.2
2023.475 -1.4
2023.498 -0.2
2023.521 -0.2
2023.544 -1.8
2023.560 -0.2
2023.583 -0.2
2023.598 -2.1
2023.614 -5.2
2023.629 -3.7
2023.645 -4.7
2023.660 -1.9
2023.683 -0.2
2023.706 -0.5
2023.722 -2.3
2023.745 -1.2
2023.768 -0.7
2023.784 -2.1
2023.807 -0.2
2023.830 -0.2
2023.861 -0.7
2023.884 -0.2
2023.907 -0.5
2023.938 -0.2
2023.969 -0.5
2024.000 -0.2
2024.017 -0.8
2024.033 -1.0
2024.050 -2.6
2024.074 0
2024.099 -1.0
2024.124 -0.2
2024.157 0
2024.190 0
2024.206 -1.6
2024.223 -0.2
2024.239 -1.8
2024.256 -0.4
2024.272 0
2024.292 -2.6
2024.314 -0.4
2024.338 0
2024.351 -4.0
2024.363 -6.4
2024.380 -5.4
2024.396 -8.2
2024.413 -6.0
2024.429 -5.0
2024.446 -6.6
2024.462 -5.2
2024.487 -4.6
2024.503 -3.6
2024.520 -2.6
2024.536 -2.8
2024.553 -3.8
2024.569 -3.6
2024.583 -3.2
2024.594 -13.3
2024.611 -9.9
2024.627 -5.2
2024.644 -6.4
2024.660 -6.8
2024.677 -8.9
2024.693 -11.3
2024.710 -8.9
2024.734 -8.2
2024.751 -10.7
2024.771 -11.7
2024.792 -10.1
2024.817 -9.9
2024.842 -10.3
2024.866 -10.1
2024.883 -11.7
2024.899 -8.9
2024.916 -7.6
2024.932 -7.2
2024.949 -8.5
2024.965 -10.3
2024.990 -9.5
2025.015 -8.0
2025.040 -11.9
2025.056 -9.3
2025.073 -9.7
2025.089 -10.7
2025.114 -9.3
2025.147 -9.1
2025.172 -10.1
2025.188 -11.1
2025.213 -9.9
2025.238 -10.5
2025.254 -14.1
2025.271 -22.7
2025.287 -15.9
2025.312 -17.5
2025.328 -14.5
2025.345 -10.3
2025.378 -9.9
2025.403 -10.9
2025.427 -12.7
2025.452 -12.5
2025.469 -13.3
2025.485 -10.9
2025.510 -10.7
2025.535 -9.5
2025.559 -10.5
2025.584 -10.7
2025.601 -8.5
2025.617 -5.8
2025.634 -8.5
2025.650 -5.6
2025.675 -5.4
2025.691 -4.2
2025.708 -6.6
2025.724 -5.2
2025.741 -5.6
2025.757 -3.4
2025.782 -5.4
2025.799 -3.0
2025.815 -1.6
2025.832 -3.6
2025.848 -3.0
2025.865 -6.4
2025.881 -8.7
2025.898 -6.4
2025.914 -7.4
2025.939 -8.0
2025.972 -8.0
2025.997 -8.0
2026.013 -6.6
2026.030 -5.6
2026.046 -2.4
2026.063 -4.0
2026.071 -1.8
2026.087 -5.2
2026.104 -2.8
2026.120 -1.2
2026.145 0
2026.157 -2.8
2026.178 -7.6
2026.195 -3.8
2026.211 -6.4
2026.228 -5.2
2026.244 -8.7
2026.269 -4.6
2026.294 -4.8
2026.318 -3.8
2026.335 -2.8
2026.351 -1.8
2026.370 -0.6
2026.384 -2.8
2026.401 0
2026.417 -0.4
2026.431 -5.6
2026.442 -3.0
}\bluetab

\begin{document}
\begin{tikzpicture}
\path[use as bounding box] (-59.5bp,-81bp) rectangle (1001.5bp,605.5bp);
\begin{axis}[
  at={(0,0)}, anchor=south west,
  width=991.5bp, height=555bp, scale only axis,
  xmin=2017.666, xmax=2026.864,
  ymin=-55.6, ymax=2.73,
  axis lines*=left,
  axis line style={black, line width=1bp},
  tick align=outside, tick pos=left,
  major tick length=4bp,
  every tick/.style={black, line width=0.8bp},
  xtick={2018,2019,2020,2021,2022,2023,2024,2025,2026},
  xticklabels={2018,2019,2020,2021,2022,2023,2024,2025,2026},
  ytick={-50,-40,-30,-20,-10,0},
  yticklabels={-50,-40,-30,-20,-10,0},
  ticklabel style={font=\fontsize{11.5}{13}\selectfont},
  xticklabel style={yshift=-3bp},
  yticklabel style={xshift=-3bp},
  grid=major,
  major grid style={cgrid, line width=0.7bp},
  title={\zh{回撤曲線}(underwater):\zh{兩輪迭代把最深回撤一路收斂}},
  title style={at={(0.5,1)}, anchor=center, yshift=20.5bp, font=\fontsize{24.5}{28}\selectfont},
  ylabel={\zh{距前高回撤}(\%)},
  ylabel style={at={(axis description cs:0,0.5)}, anchor=center, yshift=42.5bp, font=\fontsize{13}{15}\selectfont},
  legend columns=2,
  legend cell align=left,
  legend style={at={(0.5,0)}, anchor=north, yshift=-24bp, draw=none, fill=none,
    font=\fontsize{13.3}{15}\selectfont, row sep=4bp,
    /tikz/every odd column/.append style={column sep=5bp},
    /tikz/every even column/.append style={column sep=26bp}},
  legend image code/.code={\draw[#1, line cap=butt] (0bp,0bp) -- (30bp,0bp);},
  line join=round,
]
\addplot[draw=none, fill=cblue, fill opacity=0.2, forget plot] table[x=x,y=y] {\bluetab} \closedcycle;
\addplot[cblue!35, line width=0.8bp, forget plot] coordinates {(2018.073,0) (2026.442,0)};
\addplot[cred, line width=1.7bp, forget plot] table[x=x,y=y] {\redtab};
\addplot[corange, line width=1.7bp, forget plot] table[x=x,y=y] {\orangetab};
\addplot[cgray, line width=1.7bp, forget plot] table[x=x,y=y] {\graytab};
\addplot[cblue, line width=3.2bp, forget plot] table[x=x,y=y] {\bluetab};
\addlegendimage{cred, line width=1.7bp}
\addlegendentry{naive \zh{動能}(\zh{最深} -53.0\%)}
\addlegendimage{cgray, line width=1.7bp}
\addlegendentry{0050 \zh{含息}(\zh{最深} -34.0\%)}
\addlegendimage{corange, line width=1.7bp}
\addlegendentry{\zh{第一輪重構}(\zh{最深} -35.7\%)}
\addlegendimage{cblue, line width=3.2bp}
\addlegendentry{\zh{第二輪推薦版}(\zh{最深} -30.2\%)}
\end{axis}
\end{tikzpicture}
\end{document}
